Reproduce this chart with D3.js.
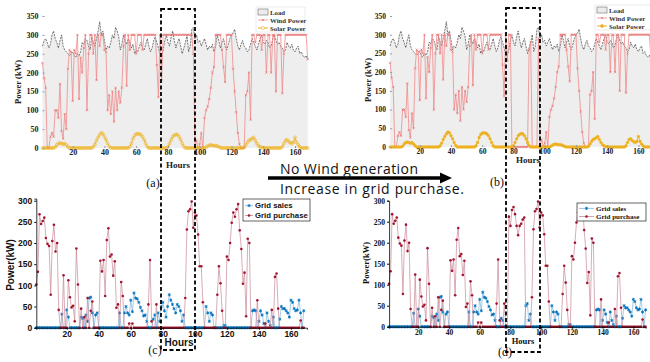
<!DOCTYPE html>
<html><head><meta charset="utf-8">
<script src="https://cdn.jsdelivr.net/npm/d3@7"></script>
<style>body{margin:0;background:#fff}svg{display:block}</style>
</head><body>
<svg id="c" width="650" height="362"></svg>
<script>
const hours = d3.range(1, 169);
const yTicksTop = [0,50,100,150,200,250,300,350];
const yTicksBot = [0,50,100,150,200,250,300];
const xTicks = [20,40,60,80,100,120,140,160];

const load = [270,285,290,280,265,275,300,310,290,280,265,285,
300,270,260,255,250,245,250,255,245,240,250,245,
255,280,275,290,285,270,260,295,280,270,290,310,
335,300,310,285,260,270,265,280,300,290,320,310,
295,260,275,300,285,275,290,280,265,275,250,260,
255,270,280,265,260,275,290,270,255,265,285,295,
280,265,250,245,260,285,300,280,270,295,310,285,
265,280,290,270,250,265,280,300,255,270,315,320,
290,300,280,285,270,280,290,275,260,270,265,275,
255,270,300,285,265,280,290,270,260,275,290,300,
305,315,290,270,260,275,285,270,265,255,260,275,
290,280,270,260,275,290,300,280,275,285,280,265,
270,290,300,285,275,280,270,265,255,260,280,270,
265,275,260,255,265,270,250,255,245,240,245,235];

const windA = [225,185,160,0,0,30,40,30,100,100,80,170,
45,25,90,50,210,260,255,125,260,250,300,130,
240,200,265,300,100,250,300,300,250,300,180,300,
270,300,300,260,255,100,140,90,150,70,160,100,
150,120,160,270,300,165,300,260,300,300,300,250,
300,300,300,260,300,300,300,300,300,300,300,300,
220,135,300,180,300,300,300,300,300,300,300,300,
300,300,300,300,300,300,300,300,300,300,300,250,
0,20,0,10,40,0,80,100,110,130,160,200,
215,300,300,300,300,260,215,175,300,300,300,300,
210,150,95,40,10,0,0,0,140,150,200,75,
300,300,280,300,300,300,260,300,300,200,300,300,
200,300,300,150,300,300,300,145,250,300,300,300,
300,300,300,300,300,300,300,300,300,300,300,235];

const windB = [225,185,160,0,0,30,40,30,100,100,80,170,
45,25,90,50,210,260,255,125,260,250,300,130,
240,200,265,300,100,250,300,300,250,300,180,300,
270,300,300,260,255,100,140,90,150,70,160,100,
150,120,160,270,300,165,300,260,300,300,300,250,
300,300,300,260,300,300,300,300,300,300,300,300,
220,135,300,230,300,300,0,0,0,0,0,0,
0,0,0,0,0,260,280,0,0,0,0,290,
0,20,0,10,40,0,80,100,110,130,160,200,
215,300,300,300,300,260,215,175,300,300,300,300,
210,150,95,40,10,0,0,0,140,150,200,75,
300,300,280,300,300,300,260,300,300,200,300,300,
200,300,300,150,300,300,300,145,250,300,300,300,
300,300,300,300,300,300,300,300,300,300,300,235];

const solar = [0,0,0,0,0,0,0,0,2,8,12,13,
12,10,12,8,3,0,0,0,0,0,0,0,
0,0,0,0,0,0,0,0,3,10,20,28,
35,40,38,30,22,12,4,0,0,0,0,0,
0,0,0,0,0,0,0,3,12,25,33,37,
38,37,35,30,22,12,3,0,0,0,0,0,
0,0,0,0,0,0,0,3,12,22,30,34,
36,35,30,22,12,4,0,0,0,0,0,0,
0,0,0,0,0,0,0,2,5,7,8,7,
6,6,5,3,1,0,0,0,0,0,0,0,
0,0,0,0,0,0,0,2,8,15,20,22,
25,28,20,12,6,3,1,0,0,0,0,0,
0,0,0,0,0,0,0,3,12,20,22,17,
14,12,15,28,15,8,3,0,0,0,0,0];

const buyC = [102,132,268,245,252,260,212,198,193,78,205,243,
180,200,42,0,0,124,0,0,112,72,48,52,
15,187,102,0,45,0,25,0,70,0,40,62,
0,0,0,0,158,133,160,75,207,235,168,173,
123,157,47,55,0,108,75,0,0,0,10,0,
10,0,0,0,0,0,0,0,0,0,55,160,
15,0,0,55,0,0,0,0,0,0,0,0,
0,0,0,0,0,0,0,0,0,70,232,275,
280,298,236,272,265,220,145,145,60,0,0,0,
0,0,0,0,0,78,145,105,40,0,0,168,
160,200,248,272,262,280,292,230,186,104,130,27,
210,200,0,0,0,0,65,0,0,0,0,10,
0,0,0,42,0,120,128,45,0,0,0,0,
0,0,0,0,0,0,0,0,0,17,0,0];

const sellC = [0,0,0,0,0,0,0,0,0,0,0,0,
0,0,0,0,32,0,0,42,25,0,0,0,
0,0,0,0,25,22,0,30,15,70,72,35,
0,30,35,0,0,0,0,0,0,0,0,0,
0,0,0,0,35,0,0,35,50,35,30,65,
38,82,70,68,60,48,40,28,30,15,0,0,
0,20,30,0,35,15,50,60,40,25,50,78,
65,55,45,35,55,50,40,15,30,0,0,0,
0,0,0,0,0,0,0,0,0,0,50,35,
15,35,30,0,0,0,0,0,0,5,5,0,
0,0,0,0,0,0,0,0,0,0,0,0,
0,0,0,40,42,40,0,15,40,30,10,0,
35,15,5,0,25,0,0,0,20,50,45,45,
40,35,25,65,60,45,40,42,65,35,0,40];

const buyD = [102,132,268,245,252,260,212,198,193,78,205,243,
180,200,42,0,0,124,0,0,112,72,48,52,
15,187,102,0,45,0,25,0,70,0,40,62,
0,0,0,0,158,133,160,75,207,235,168,173,
123,157,47,55,0,108,75,0,0,0,10,0,
10,0,0,0,0,0,0,0,0,0,55,160,
15,0,0,55,0,0,262,240,278,285,268,240,
218,240,245,255,260,0,0,0,0,70,232,275,
280,298,236,272,265,220,145,145,60,0,0,0,
0,0,0,0,0,78,145,105,40,0,0,168,
160,200,248,272,262,280,292,230,186,104,130,27,
210,200,0,0,0,0,65,0,0,0,0,10,
0,0,0,42,0,120,128,45,0,0,0,0,
0,0,0,0,0,0,0,0,0,17,0,0];

const sellD = [0,0,0,0,0,0,0,0,0,0,0,0,
0,0,0,0,32,0,0,42,25,0,0,0,
0,0,0,0,25,22,0,30,15,70,72,35,
0,30,35,0,0,0,0,0,0,0,0,0,
0,0,0,0,35,0,0,35,50,35,30,65,
38,82,70,68,60,48,40,28,30,15,0,0,
0,20,15,0,0,0,0,0,0,0,0,0,
0,0,0,0,0,50,55,15,30,0,0,0,
0,0,0,0,0,0,0,0,0,0,50,35,
15,35,30,0,0,0,0,0,0,5,5,0,
0,0,0,0,0,0,0,0,0,0,0,0,
0,0,0,40,42,40,0,15,40,30,10,0,
35,15,5,0,25,0,0,0,20,50,45,45,
40,35,25,65,60,45,40,42,65,35,0,40];

const C_WIND = "#f08a8a", C_SOLAR = "#EDB120", C_SELL = "#0072BD", C_BUY = "#A2142F";
const SERIF = "'Liberation Serif','Times New Roman',serif";
const SANS = "'Liberation Sans',Arial,sans-serif";

const svg = d3.select("#c");

function drawTop(cfg) {
  const x = d3.scaleLinear().domain([1, 169]).range(cfg.xr);
  const y = d3.scaleLinear().domain([0, 350]).range(cfg.yr);
  const g = svg.append("g");
  const area = d3.area().x((d,i)=>x(hours[i])).y0(y(0)).y1(d=>y(d));
  g.append("path").datum(load).attr("d", area).attr("fill", "#eeeeee");
  const line = d3.line().x((d,i)=>x(hours[i])).y(d=>y(d));
  g.append("path").datum(load).attr("d", line).attr("fill","none")
    .attr("stroke","#222").attr("stroke-width",0.6).attr("stroke-dasharray","2,1");
  g.append("path").datum(cfg.wind).attr("d", line).attr("fill","none")
    .attr("stroke",C_WIND).attr("stroke-width",0.8);
  g.selectAll(".wm").data(cfg.wind).enter().append("path")
    .attr("transform",(d,i)=>`translate(${x(hours[i])},${y(d)})`)
    .attr("d","M-1.1,-1.1L1.1,1.1M-1.1,1.1L1.1,-1.1").attr("stroke","#e46a6a").attr("stroke-width",0.6);
  g.append("path").datum(solar).attr("d", line).attr("fill","none")
    .attr("stroke",C_SOLAR).attr("stroke-width",0.9);
  g.selectAll(".sm").data(solar).enter().append("circle")
    .attr("cx",(d,i)=>x(hours[i])).attr("cy",d=>y(d)).attr("r",cfg.fillSolar ? 1.3 : 1.5)
    .attr("fill",cfg.fillSolar ? C_SOLAR : "none").attr("stroke",C_SOLAR).attr("stroke-width",0.6);
  const ya = g.append("g").attr("transform",`translate(${cfg.xr[0]},0)`)
    .call(d3.axisLeft(y).tickValues(yTicksTop).tickSize(-2).tickPadding(4));
  const xa = g.append("g").attr("transform",`translate(0,${cfg.yr[0]})`)
    .call(d3.axisBottom(x).tickValues(xTicks).tickSize(-2).tickPadding(1.5));
  [ya, xa].forEach(a => {
    a.select(".domain").remove();
    a.selectAll("line").attr("stroke","#999");
    a.selectAll("text").attr("font-family",SERIF).attr("font-weight","bold")
      .attr("font-size",cfg.fs).attr("fill","#222");
  });
  g.append("text").attr("transform",`translate(${cfg.ylab[0]},${cfg.ylab[1]}) rotate(-90)`)
    .attr("text-anchor","middle").attr("font-family",SERIF).attr("font-weight","bold")
    .attr("font-size",8.5).attr("fill","#222").text("Power (kW)");
  g.append("text").attr("x",cfg.xlab[0]).attr("y",cfg.xlab[1]).attr("text-anchor","middle")
    .attr("font-family",SERIF).attr("font-weight","bold").attr("font-size",9).attr("fill","#222").text("Hours");
  const L = cfg.leg;
  const lg = g.append("g").attr("transform",`translate(${L[0]},${L[1]})`);
  lg.append("rect").attr("width",L[2]).attr("height",25).attr("fill","#fff").attr("stroke","#ddd").attr("stroke-width",0.6);
  lg.append("rect").attr("x",2).attr("y",2).attr("width",10).attr("height",6).attr("fill","#ececec").attr("stroke","#555").attr("stroke-width",0.5);
  lg.append("line").attr("x1",2).attr("x2",12).attr("y1",13).attr("y2",13).attr("stroke",C_WIND).attr("stroke-width",0.8);
  lg.append("path").attr("transform","translate(7,13)").attr("d","M-1.1,-1.1L1.1,1.1M-1.1,1.1L1.1,-1.1").attr("stroke","#e46a6a").attr("stroke-width",0.6);
  lg.append("line").attr("x1",2).attr("x2",12).attr("y1",21).attr("y2",21).attr("stroke",C_SOLAR).attr("stroke-width",1);
  lg.append("circle").attr("cx",7).attr("cy",21).attr("r",1.5).attr("fill",cfg.fillSolar?C_SOLAR:"#fff").attr("stroke",C_SOLAR).attr("stroke-width",0.6);
  [["Load",7.5],["Wind Power",15.5],["Solar Power",23.5]].forEach(([t,yy]) =>
    lg.append("text").attr("x",14).attr("y",yy).attr("font-family",SERIF).attr("font-weight","bold")
      .attr("font-size",6.8).attr("fill","#333").text(t));
}

drawTop({xr:[42.5,309.3], yr:[148,16], fs:8, ylab:[21,82], xlab:[178,168], leg:[256,7,49], fillSolar:false, wind:windA});
drawTop({xr:[390.1,652.5], yr:[147,16], fs:7.5, ylab:[371,80], xlab:[528,163], leg:[595,5,60], fillSolar:true, wind:windB});

function drawBot(cfg) {
  const x = d3.scaleLinear().domain(cfg.xd).range(cfg.xr);
  const y = d3.scaleLinear().domain(cfg.yd).range(cfg.yr);
  const g = svg.append("g");
  const line = d3.line().x((d,i)=>x(hours[i])).y(d=>y(d));
  const star = "M0,-1.6L0,1.6M-1.4,-0.8L1.4,0.8M-1.4,0.8L1.4,-0.8";
  g.append("path").datum(cfg.sell).attr("d",line).attr("fill","none").attr("stroke","#7fb4dc").attr("stroke-width",0.7);
  g.selectAll(".s").data(cfg.sell).enter().append("path")
    .attr("transform",(d,i)=>`translate(${x(hours[i])},${y(d)})`).attr("d",star)
    .attr("stroke",C_SELL).attr("stroke-width",0.9);
  g.append("path").datum(cfg.buy).attr("d",line).attr("fill","none").attr("stroke","#c98a98").attr("stroke-width",0.7);
  g.selectAll(".b").data(cfg.buy).enter().append("circle")
    .attr("cx",(d,i)=>x(hours[i])).attr("cy",d=>y(d)).attr("r",1.3).attr("fill",C_BUY);
  const ya = g.append("g").attr("transform",`translate(${cfg.xr[0]},0)`)
    .call(d3.axisLeft(y).tickValues(yTicksBot).tickSize(2).tickPadding(2));
  const xa = g.append("g").attr("transform",`translate(0,${cfg.yr[0]})`)
    .call(d3.axisBottom(x).tickValues(xTicks).tickSize(2).tickPadding(1));
  [ya, xa].forEach(a => {
    a.select(".domain").attr("stroke","#000").attr("stroke-width",0.8);
    a.selectAll("line").attr("stroke","#000");
    a.selectAll("text").attr("font-family",cfg.font).attr("font-weight","bold")
      .attr("font-size",cfg.fs).attr("fill","#111");
  });
  g.append("text").attr("transform",`translate(${cfg.ylab[0]},${cfg.ylab[1]}) rotate(-90)`)
    .attr("text-anchor","middle").attr("font-family",cfg.font).attr("font-weight","bold")
    .attr("font-size",cfg.lfs).attr("fill","#111").text("Power(kW)");
  g.append("text").attr("x",cfg.xlab[0]).attr("y",cfg.xlab[1]).attr("text-anchor","middle")
    .attr("font-family",cfg.font).attr("font-weight","bold").attr("font-size",cfg.lfs).attr("fill","#111").text("Hours");
  const L = cfg.leg;
  const lg = g.append("g").attr("transform",`translate(${L[0]},${L[1]})`);
  lg.append("rect").attr("width",L[2]).attr("height",L[3]).attr("fill","#fff").attr("stroke","#222").attr("stroke-width",0.7);
  const h1 = L[3]*0.3, h2 = L[3]*0.75;
  lg.append("line").attr("x1",2).attr("x2",L[4]-2).attr("y1",h1).attr("y2",h1).attr("stroke","#7fb4dc").attr("stroke-width",0.8);
  lg.append("path").attr("transform",`translate(${(L[4])/2},${h1})`).attr("d",star).attr("stroke",C_SELL).attr("stroke-width",0.9);
  lg.append("line").attr("x1",2).attr("x2",L[4]-2).attr("y1",h2).attr("y2",h2).attr("stroke","#c98a98").attr("stroke-width",0.8);
  lg.append("circle").attr("cx",L[4]/2).attr("cy",h2).attr("r",1.3).attr("fill",C_BUY);
  lg.append("text").attr("x",L[4]).attr("y",h1+2.8).attr("font-family",cfg.font).attr("font-weight","bold")
    .attr("font-size",cfg.legfs).attr("fill","#111").text("Grid sales");
  lg.append("text").attr("x",L[4]).attr("y",h2+2.8).attr("font-family",cfg.font).attr("font-weight","bold")
    .attr("font-size",cfg.legfs).attr("fill","#111").text("Grid purchase");
}

drawBot({xd:[1,170], xr:[36.3,307], yd:[0,305], yr:[327.7,198.6], font:SANS, fs:8.5, lfs:10,
  ylab:[14,265], xlab:[179,346], leg:[243,199,67,22,12], legfs:7.8, sell:sellC, buy:buyC});
drawBot({xd:[1,168], xr:[389.1,645.6], yd:[0,300], yr:[326.7,200.7], font:SERIF, fs:7.5, lfs:8.5,
  ylab:[369,263], xlab:[523,344], leg:[577,203,69,18,19], legfs:7, sell:sellD, buy:buyD});

[["(a)",153,187],["(b)",497,186],["(c)",155,354],["(d)",505,356]].forEach(([t,xx,yy]) =>
  svg.append("text").attr("x",xx).attr("y",yy).attr("text-anchor","middle")
    .attr("font-family",SERIF).attr("font-size",12).attr("fill","#111").text(t));

svg.append("line").attr("x1",268).attr("x2",442).attr("y1",178).attr("y2",178)
  .attr("stroke","#000").attr("stroke-width",3.5);
svg.append("path").attr("d","M440,172.5L452,178L440,183.5Z").attr("fill","#000");
svg.append("text").attr("x",280).attr("y",173.5).attr("font-family","'Open Sans',sans-serif")
  .attr("font-size",14).attr("fill","#111").attr("textLength",138).text("No Wind generation");
svg.append("text").attr("x",280).attr("y",194).attr("font-family","'Open Sans',sans-serif")
  .attr("font-size",14).attr("fill","#111").attr("textLength",184).text("Increase in grid purchase.");

[[161,9,34,341],[506,8,34,344]].forEach(([xx,yy,w,h]) =>
  svg.append("rect").attr("x",xx).attr("y",yy).attr("width",w).attr("height",h)
    .attr("fill","none").attr("stroke","#000").attr("stroke-width",1.8).attr("stroke-dasharray","4,2.5"));
</script>
</body></html>
